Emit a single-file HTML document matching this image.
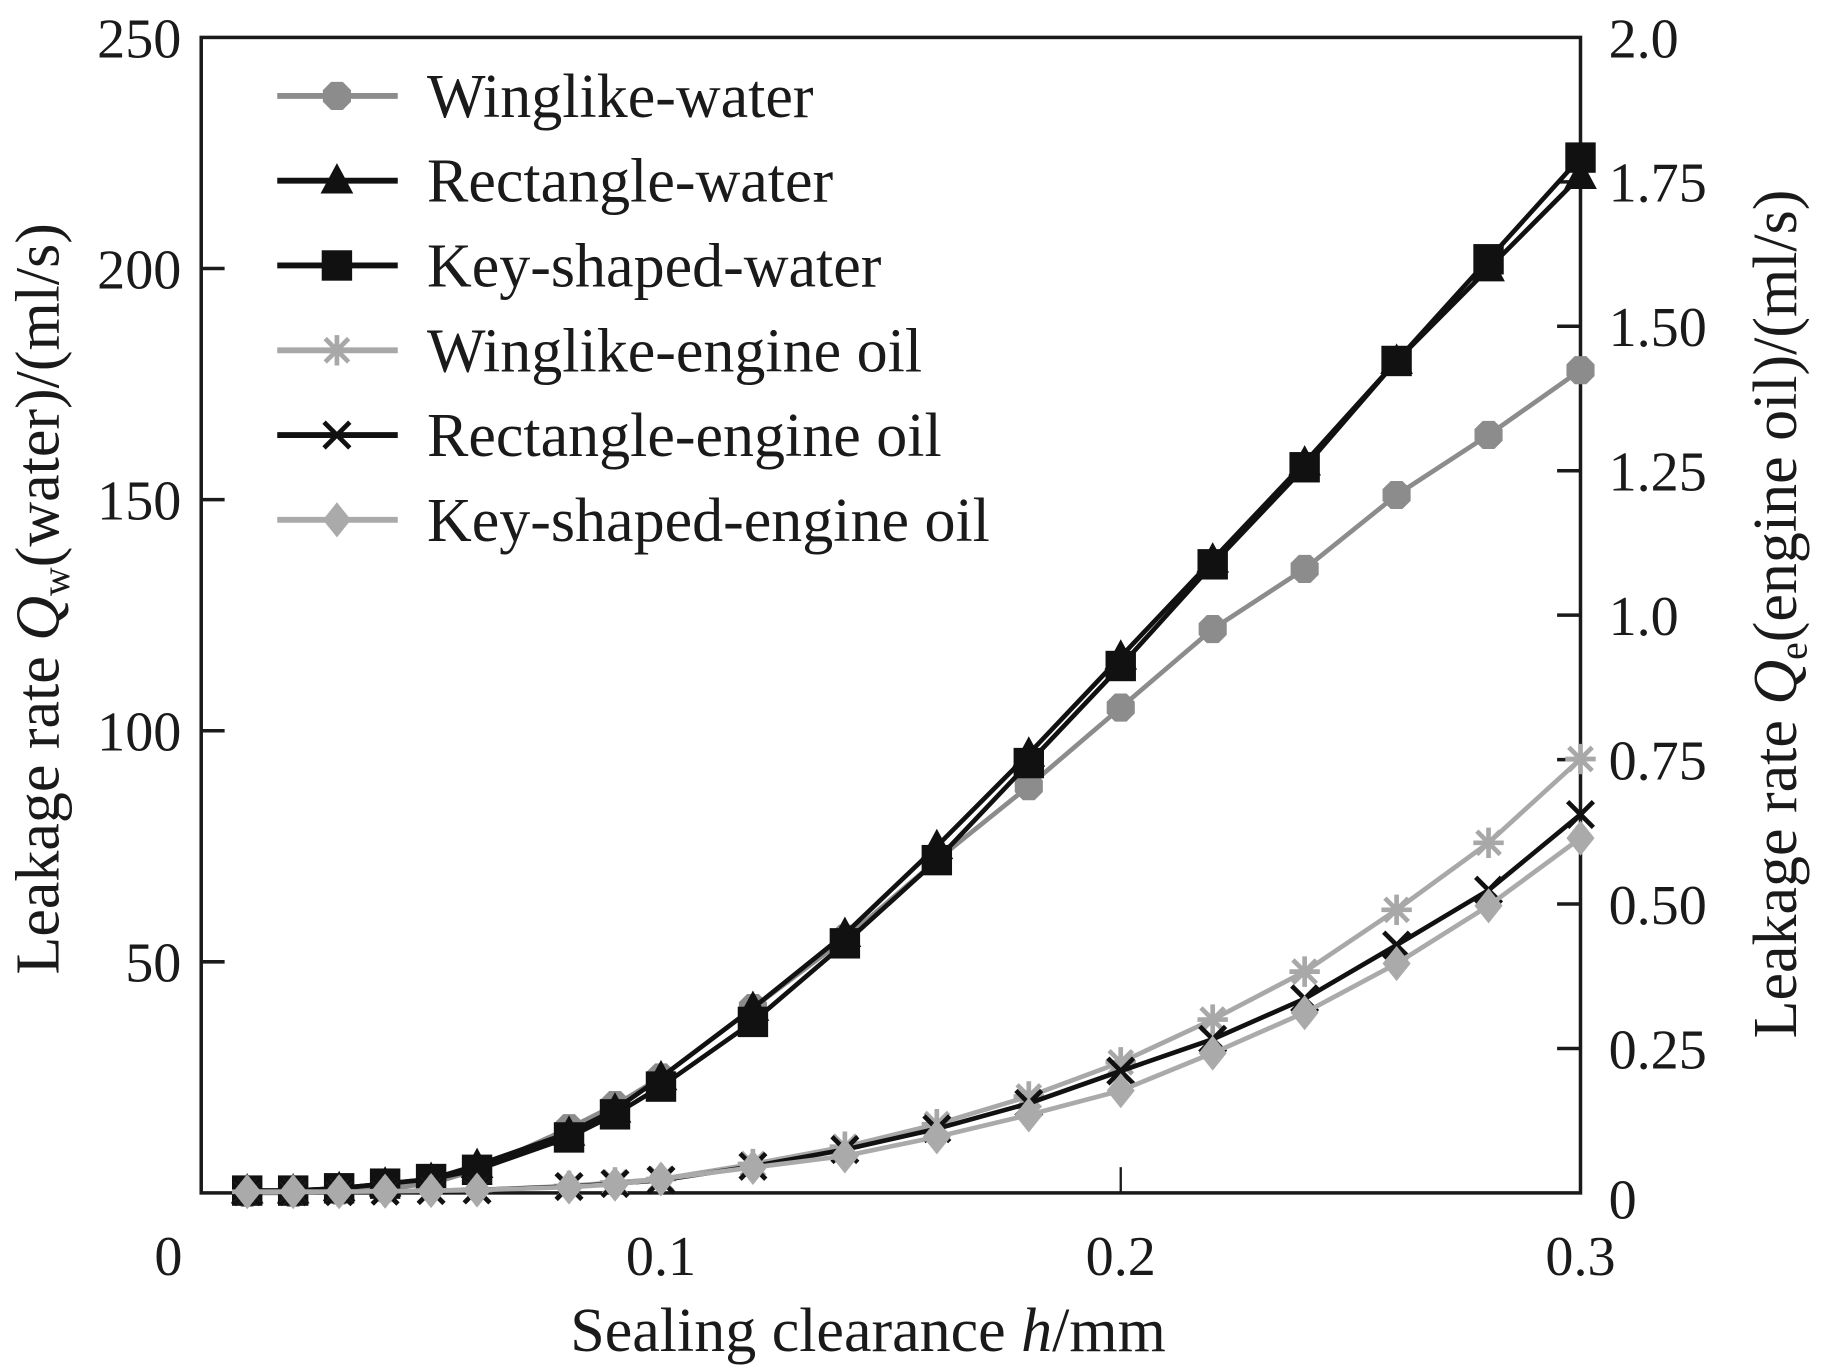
<!DOCTYPE html>
<html><head><meta charset="utf-8"><style>
html,body{margin:0;padding:0;background:#fff;}
svg{display:block;}
text{font-family:"Liberation Serif",serif;fill:#1a1a1a;}
</style></head><body>
<svg id="chart" width="1825" height="1366" viewBox="0 0 1560 1168" preserveAspectRatio="none" xmlns="http://www.w3.org/2000/svg"></svg>
<script>
const xs = [0.01,0.02,0.03,0.04,0.05,0.06,0.08,0.09,0.1,0.12,0.14,0.16,0.18,0.2,0.22,0.24,0.26,0.28,0.3];
const wingWater = [0,0,0.5,1,2,5,14,19,25,40,55,72,88,105,122,135,151,164,178];
const rectWater = [0.5,0.5,1,2,3,6,13,18,25,40,56,75,95,116,137,158,180,200,220];
const keyWater = [0.5,0.5,1,2,3,5,12,17,23,37,54,72,93,114,136,157,180,202,224];
const wingOil = [0.002,0.002,0.002,0.003,0.004,0.005,0.012,0.018,0.024,0.05,0.08,0.119,0.167,0.226,0.30,0.383,0.49,0.606,0.751];
const rectOil = [0.002,0.002,0.002,0.003,0.004,0.005,0.011,0.016,0.022,0.046,0.075,0.111,0.155,0.211,0.266,0.336,0.429,0.524,0.655];
const keyOil = [0.002,0.002,0.002,0.003,0.004,0.005,0.01,0.015,0.024,0.044,0.064,0.097,0.135,0.177,0.242,0.312,0.397,0.497,0.614];
const xTicks = [0,0.1,0.2,0.3];
const xTickLabels = ["0","0.1","0.2","0.3"];
const yLeftTicks = [0,50,100,150,200,250];
const yLeftLabels = ["","50","100","150","200","250"];
const yRightTicks = [0,0.25,0.5,0.75,1.0,1.25,1.5,1.75,2.0];
const yRightLabels = ["0","0.25","0.50","0.75","1.0","1.25","1.50","1.75","2.0"];

const L=172,R=1351,T=32,B=1020;
const sx=v=>L+(v/0.3)*(R-L);
const syL=v=>B-(v/250)*(B-T);
const syR=v=>B-(v/2.0)*(B-T);
const NS="http://www.w3.org/2000/svg";
const svg=document.getElementById('chart');
function mk(tag,attrs,parent){const e=document.createElementNS(NS,tag);for(const k in attrs)e.setAttribute(k,attrs[k]);(parent||svg).appendChild(e);return e;}

function marker(g,type,x,y,color){
  let e;
  if(type==='circle'){e=mk('polygon',{points:[0,1,2,3,4,5,6,7].map(i=>{const a=Math.PI/8+i*Math.PI/4;return (x+13*Math.cos(a))+','+(y+13*Math.sin(a));}).join(' '),fill:color},g);}
  else if(type==='tri'){e=mk('polygon',{points:`${x},${y-15} ${x+14},${y+11} ${x-14},${y+11}`,fill:color},g);}
  else if(type==='sq'){e=mk('rect',{x:x-13,y:y-13,width:26,height:26,fill:color},g);}
  else if(type==='star'){e=mk('path',{d:`M${x-10},${y-10}L${x+10},${y+10}M${x+10},${y-10}L${x-10},${y+10}M${x},${y-13}L${x},${y+13}M${x-13},${y}L${x+13},${y}`,stroke:color,'stroke-width':4},g);}
  else if(type==='x'){e=mk('path',{d:`M${x-11},${y-11}L${x+11},${y+11}M${x+11},${y-11}L${x-11},${y+11}`,stroke:color,'stroke-width':4},g);}
  else if(type==='dia'){e=mk('polygon',{points:`${x},${y-15} ${x+12},${y} ${x},${y+15} ${x-12},${y}`,fill:color},g);}
  
  
}

const series=[
 {name:'Winglike-water',vals:wingWater,sy:syL,color:'#8c8c8c',m:'circle',key:'winglike-water'},
 {name:'Rectangle-water',vals:rectWater,sy:syL,color:'#111',m:'tri',key:'rectangle-water'},
 {name:'Key-shaped-water',vals:keyWater,sy:syL,color:'#111',m:'sq',key:'key-shaped-water'},
 {name:'Winglike-engine oil',vals:wingOil,sy:syR,color:'#a8a8a8',m:'star',key:'winglike-engine-oil'},
 {name:'Rectangle-engine oil',vals:rectOil,sy:syR,color:'#111',m:'x',key:'rectangle-engine-oil'},
 {name:'Key-shaped-engine oil',vals:keyOil,sy:syR,color:'#aaaaaa',m:'dia',key:'key-shaped-engine-oil'}
];

const frame=mk('rect',{x:L,y:T,width:R-L,height:B-T,fill:'none',stroke:'#1a1a1a','stroke-width':3});



yLeftTicks.forEach((v,i)=>{
  const y=syL(v);
  if(i>0&&i<yLeftTicks.length-1){const t=mk('line',{x1:L,x2:L+20,y1:y,y2:y,stroke:'#1a1a1a','stroke-width':3});}
  if(yLeftLabels[i]){const tx=mk('text',{x:155,y:y+17,'text-anchor':'end','font-size':48});tx.textContent=yLeftLabels[i];}
});
yRightTicks.forEach((v,i)=>{
  const y=syR(v);
  if(i>0&&i<yRightTicks.length-1){const t=mk('line',{x1:R-20,x2:R,y1:y,y2:y,stroke:'#1a1a1a','stroke-width':3});}
  const tx=mk('text',{x:R+24,y:(i===0?y+22:y+17),'text-anchor':'start','font-size':48});tx.textContent=yRightLabels[i];
});
xTicks.forEach((v,i)=>{
  const x=sx(v);
  if(i>0&&i<xTicks.length-1){const t=mk('line',{x1:x,x2:x,y1:B,y2:B-22,stroke:'#1a1a1a','stroke-width':2});}
  const tx=mk('text',{x:(i===0?x-28:x),y:1090,'text-anchor':'middle','font-size':48});tx.textContent=xTickLabels[i];
});

series.forEach(s=>{
  const g=mk('g',{});
  
  
  const p=mk('polyline',{points:xs.map((x,i)=>sx(x)+','+s.sy(s.vals[i])).join(' '),fill:'none',stroke:s.color,'stroke-width':4,'stroke-linejoin':'round'},g);
  
  
  xs.forEach((x,i)=>marker(g,s.m,sx(x),s.sy(s.vals[i]),s.color));
});

series.forEach((s,i)=>{
  const y=82+i*72.5;
  const g=mk('g',{});
  
  
  mk('line',{x1:237,x2:340,y1:y,y2:y,stroke:s.color,'stroke-width':5},g);
  marker(g,s.m,288,y,s.color);
  const t=mk('text',{x:365,y:y+18,'font-size':53},g);
  t.textContent=s.name;
});

const xt=mk('text',{x:742,y:1155,'text-anchor':'middle','font-size':53});


xt.innerHTML='Sealing clearance <tspan font-style="italic">h</tspan>/mm';
const yl=mk('text',{x:0,y:0,'text-anchor':'middle','font-size':53,transform:'translate(50,512) rotate(-90)'});


yl.innerHTML='Leakage rate <tspan font-style="italic">Q</tspan><tspan font-size="34" dy="9">w</tspan><tspan dy="-9">(water)/(ml/s)</tspan>';
const yr=mk('text',{x:0,y:0,'text-anchor':'middle','font-size':53,transform:'translate(1535,525) rotate(-90)'});


yr.innerHTML='Leakage rate <tspan font-style="italic">Q</tspan><tspan font-size="34" dy="9">e</tspan><tspan dy="-9">(engine oil)/(ml/s)</tspan>';
</script>
</body></html>
